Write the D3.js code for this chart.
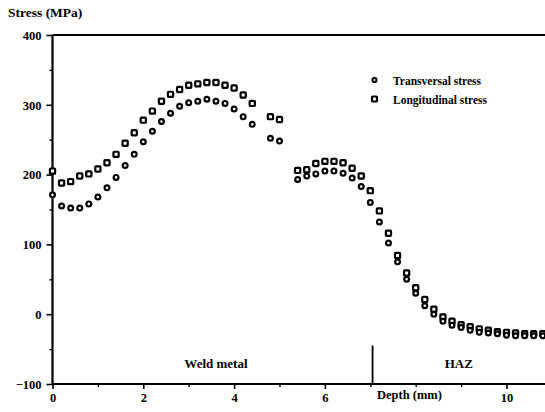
<!DOCTYPE html>
<html><head><meta charset="utf-8">
<script src="https://cdn.jsdelivr.net/npm/d3@7"></script>
<style>
html,body{margin:0;padding:0;background:#fff;}
text{font-family:"Liberation Serif","Times New Roman",serif;font-weight:bold;fill:#000;}
</style></head>
<body><svg id="c" width="545" height="412"></svg>
<script>
const weldDepth = [0,0.2,0.4,0.6,0.8,1.0,1.2,1.4,1.6,1.8,2.0,2.2,2.4,2.6,2.8,3.0,3.2,3.4,3.6,3.8,4.0,4.2,4.4,4.8,5.0];
const weldTransversal = [171,155,152,152,158,168,181,196,213,229,247,262,276,288,298,303,305,308,305,302,294,283,272,252,248];
const weldLongitudinal = [205,188,190,198,201,208,217,229,245,260,278,291,305,315,322,328,330,332,332,328,324,314,302,283,279];
const hazDepth = [5.4,5.6,5.8,6.0,6.2,6.4,6.6,6.8,7.0,7.2,7.4,7.6,7.8,8.0,8.2,8.4,8.6,8.8,9.0,9.2,9.4,9.6,9.8,10.0,10.2,10.4,10.6,10.8];
const hazTransversal = [193,198,201,205,205,202,195,183,160,132,102,75,50,30,12,0,-10,-16,-19,-23,-26,-27,-28,-30,-31,-31,-31,-31];
const hazLongitudinal = [206,207,216,219,219,217,209,198,177,148,116,84,59,38,21,7,-4,-10,-15,-18,-21,-23,-25,-26,-27,-28,-28,-28];
const xTicks = [0,2,4,6,10];
const xMinorTicks = [1,3,5,7,8,9];
const yTicks = [-100,0,100,200,300,400];
const yMinorTicks = [-50,50,150,250,350];
const seriesNames = ["Transversal stress","Longitudinal stress"];
const zones = [{label:"Weld metal", at:3.6},{label:"HAZ", at:8.95}];
const boundary = 7.05;

const svg = d3.select("#c");
const W = 545;
const x = d3.scaleLinear().domain([0,10]).range([52.5,506.5]);
const y = d3.scaleLinear().domain([-100,400]).range([384,35]);

// axes
const yAxis = d3.axisLeft(y).tickValues(yTicks).tickSize(6).tickPadding(5).tickFormat(d3.format("d"));
const gy = svg.append("g").attr("transform",`translate(${x(0)},0)`).call(yAxis);
gy.select(".domain").remove();
gy.selectAll("line").attr("stroke","#000").attr("stroke-width",1.6);
gy.selectAll("text").style("font-size","12.5px").attr("dy","0.35em");
const gym = svg.append("g").attr("transform",`translate(${x(0)},0)`)
  .call(d3.axisLeft(y).tickValues(yMinorTicks).tickSize(3).tickFormat(""));
gym.select(".domain").remove();
gym.selectAll("line").attr("stroke","#000").attr("stroke-width",1.4);

const xAxis = d3.axisBottom(x).tickValues(xTicks).tickSize(5).tickPadding(4).tickFormat(d3.format("d"));
const gx = svg.append("g").attr("transform",`translate(0,${y(-100)})`).call(xAxis);
gx.select(".domain").remove();
gx.selectAll("line").attr("stroke","#000").attr("stroke-width",1.6);
gx.selectAll("text").style("font-size","12.5px").attr("dy","0.75em");
const gxm = svg.append("g").attr("transform",`translate(0,${y(-100)})`)
  .call(d3.axisBottom(x).tickValues(xMinorTicks).tickSize(3).tickFormat(""));
gxm.select(".domain").remove();
gxm.selectAll("line").attr("stroke","#000").attr("stroke-width",1.4);

// frame lines
svg.append("line").attr("x1",x(0)).attr("x2",x(0)).attr("y1",y(400)).attr("y2",y(-100)).attr("stroke","#000").attr("stroke-width",2.2);
svg.append("line").attr("x1",x(0)).attr("x2",W).attr("y1",y(-100)).attr("y2",y(-100)).attr("stroke","#000").attr("stroke-width",2);
svg.append("line").attr("x1",x(0)).attr("x2",W).attr("y1",y(400)).attr("y2",y(400)).attr("stroke","#000").attr("stroke-width",2);

// boundary
svg.append("line").attr("x1",x(boundary)).attr("x2",x(boundary)).attr("y1",y(-45)).attr("y2",y(-100)).attr("stroke","#000").attr("stroke-width",1.8);
svg.selectAll(".zone").data(zones).enter().append("text")
  .attr("x",d=>x(d.at)).attr("y",y(-77)).attr("text-anchor","middle").style("font-size","13px").text(d=>d.label);

// axis titles
svg.append("text").attr("x",8).attr("y",17).style("font-size","13.5px").text("Stress (MPa)");
svg.append("text").attr("x",377).attr("y",y(-100)+15).style("font-size","12.5px").text("Depth (mm)");

// markers
function circles(xs, ys){
  svg.append("g").selectAll("circle").data(xs.map((d,i)=>[d,ys[i]])).enter().append("circle")
    .attr("cx",d=>x(d[0])).attr("cy",d=>y(d[1])).attr("r",2.4)
    .attr("fill","#fff").attr("stroke","#000").attr("stroke-width",2.2);
}
function squares(xs, ys){
  svg.append("g").selectAll("rect").data(xs.map((d,i)=>[d,ys[i]])).enter().append("rect")
    .attr("x",d=>x(d[0])-2.6).attr("y",d=>y(d[1])-2.6).attr("width",5.2).attr("height",5.2)
    .attr("rx",0.8).attr("fill","#fff").attr("stroke","#000").attr("stroke-width",2.2);
}
squares(weldDepth, weldLongitudinal);
squares(hazDepth, hazLongitudinal);
circles(weldDepth, weldTransversal);
circles(hazDepth, hazTransversal);

// legend
const lg = svg.append("g");
lg.append("circle").attr("cx",374.5).attr("cy",80).attr("r",2).attr("fill","#fff").attr("stroke","#000").attr("stroke-width",2.2);
lg.append("rect").attr("x",372).attr("y",96.5).attr("width",5).attr("height",5).attr("rx",0.8).attr("fill","#fff").attr("stroke","#000").attr("stroke-width",2.2);
lg.append("text").attr("x",393).attr("y",84.5).style("font-size","11.5px").text(seriesNames[0]);
lg.append("text").attr("x",393).attr("y",103.5).style("font-size","11.5px").text(seriesNames[1]);
</script>
</body></html>
